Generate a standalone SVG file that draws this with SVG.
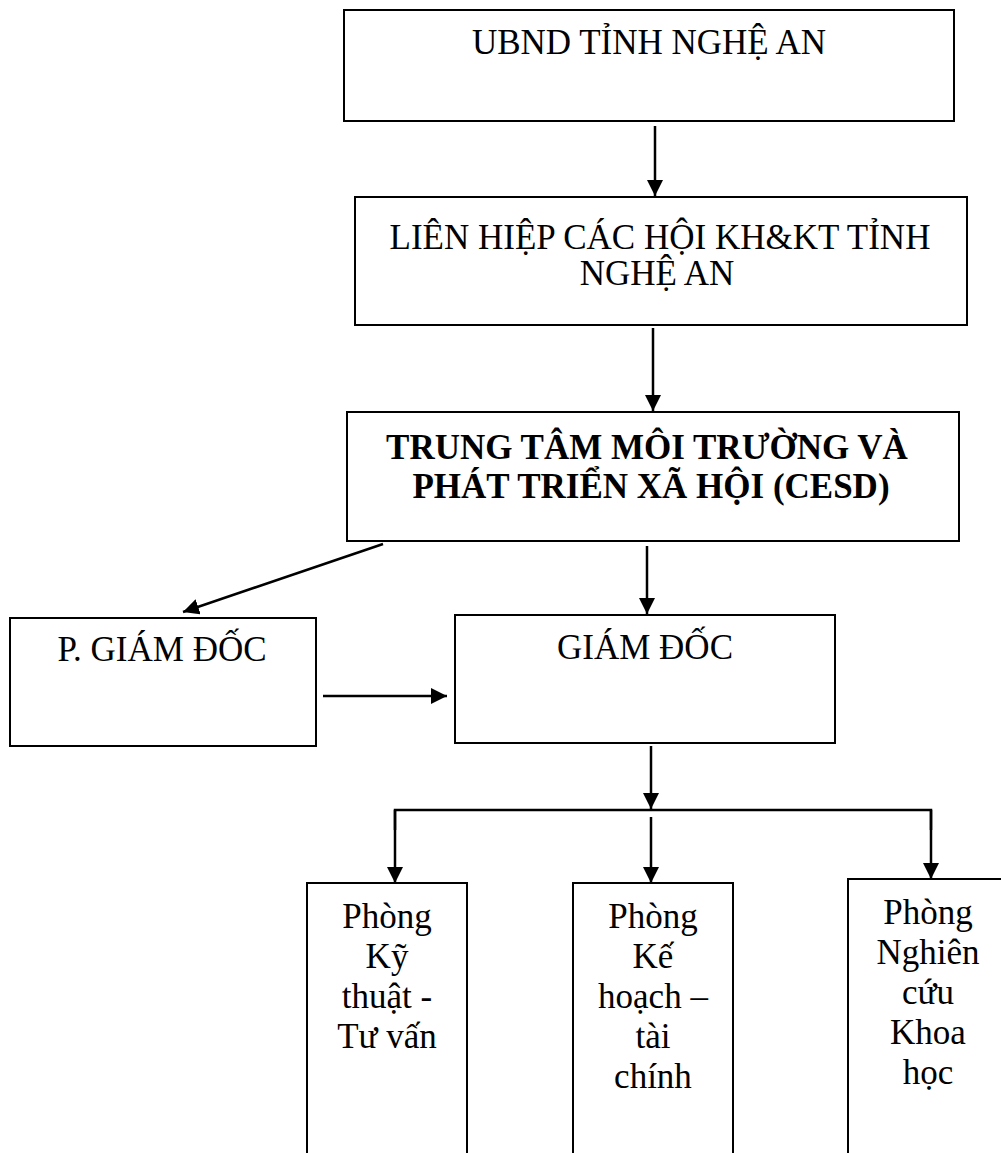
<svg xmlns="http://www.w3.org/2000/svg" width="1001" height="1153" viewBox="0 0 1001 1153">
<style>
.box{fill:#fff;stroke:#000;stroke-width:2}
.t{font-family:"Liberation Serif","Times New Roman",serif;font-size:35px;fill:#000;text-anchor:middle}
.b{font-weight:bold}
.c{fill:none;stroke:#000;stroke-width:2.5}
</style>
<defs>
<marker id="ah" markerUnits="userSpaceOnUse" markerWidth="18" markerHeight="18" refX="16" refY="8" orient="auto">
<path d="M0,0 L16,8 L0,16 z" fill="#000"/>
</marker>
</defs>
<g id="ubnd">
<rect class="box" x="344" y="10" width="610" height="111"/>
<text class="t" x="649" y="54">UBND TỈNH NGHỆ AN</text>
</g>
<g id="lienhiep">
<rect class="box" x="355" y="197" width="612" height="128"/>
<text class="t" x="660" y="249">LIÊN HIỆP CÁC HỘI KH&amp;KT TỈNH</text>
<text class="t" x="657" y="285">NGHỆ AN</text>
</g>
<g id="cesd">
<rect class="box" x="347" y="412" width="612" height="129"/>
<text class="t b" x="647" y="459">TRUNG TÂM MÔI TRƯỜNG VÀ</text>
<text class="t b" x="651" y="498">PHÁT TRIỂN XÃ HỘI (CESD)</text>
</g>
<g id="pgiamdoc">
<rect class="box" x="10" y="618" width="306" height="128"/>
<text class="t" x="162" y="661">P. GIÁM ĐỐC</text>
</g>
<g id="giamdoc">
<rect class="box" x="455" y="615" width="380" height="128"/>
<text class="t" x="645" y="659">GIÁM ĐỐC</text>
</g>
<g id="phong-kythuat">
<path class="box" d="M307,1160 V883 H467 V1160"/>
<text class="t" x="387" y="928">Phòng</text>
<text class="t" x="387" y="968">Kỹ</text>
<text class="t" x="387" y="1008">thuật -</text>
<text class="t" x="387" y="1048">Tư vấn</text>
</g>
<g id="phong-kehoach">
<path class="box" d="M573,1160 V883 H733 V1160"/>
<text class="t" x="653" y="928">Phòng</text>
<text class="t" x="653" y="968">Kế</text>
<text class="t" x="653" y="1008">hoạch –</text>
<text class="t" x="653" y="1048">tài</text>
<text class="t" x="653" y="1088">chính</text>
</g>
<g id="phong-nckh">
<path class="box" d="M848,1160 V879 H1010"/>
<text class="t" x="928" y="924">Phòng</text>
<text class="t" x="928" y="964">Nghiên</text>
<text class="t" x="928" y="1004">cứu</text>
<text class="t" x="928" y="1044">Khoa</text>
<text class="t" x="928" y="1084">học</text>
</g>
<g id="connectors">
<line class="c" x1="655" y1="126" x2="655" y2="196" marker-end="url(#ah)"/>
<line class="c" x1="653" y1="328" x2="653" y2="411" marker-end="url(#ah)"/>
<line class="c" x1="383" y1="544" x2="183" y2="612" marker-end="url(#ah)"/>
<line class="c" x1="647" y1="546" x2="647" y2="614" marker-end="url(#ah)"/>
<line class="c" x1="323" y1="696" x2="447" y2="696" marker-end="url(#ah)"/>
<line class="c" x1="651" y1="746" x2="651" y2="809" marker-end="url(#ah)"/>
<polyline class="c" points="395,830 395,810 931,810 931,830"/>
<line class="c" x1="395" y1="810" x2="395" y2="883" marker-end="url(#ah)"/>
<line class="c" x1="931" y1="810" x2="931" y2="879" marker-end="url(#ah)"/>
<line class="c" x1="651" y1="817" x2="651" y2="883" marker-end="url(#ah)"/>
</g>
</svg>
